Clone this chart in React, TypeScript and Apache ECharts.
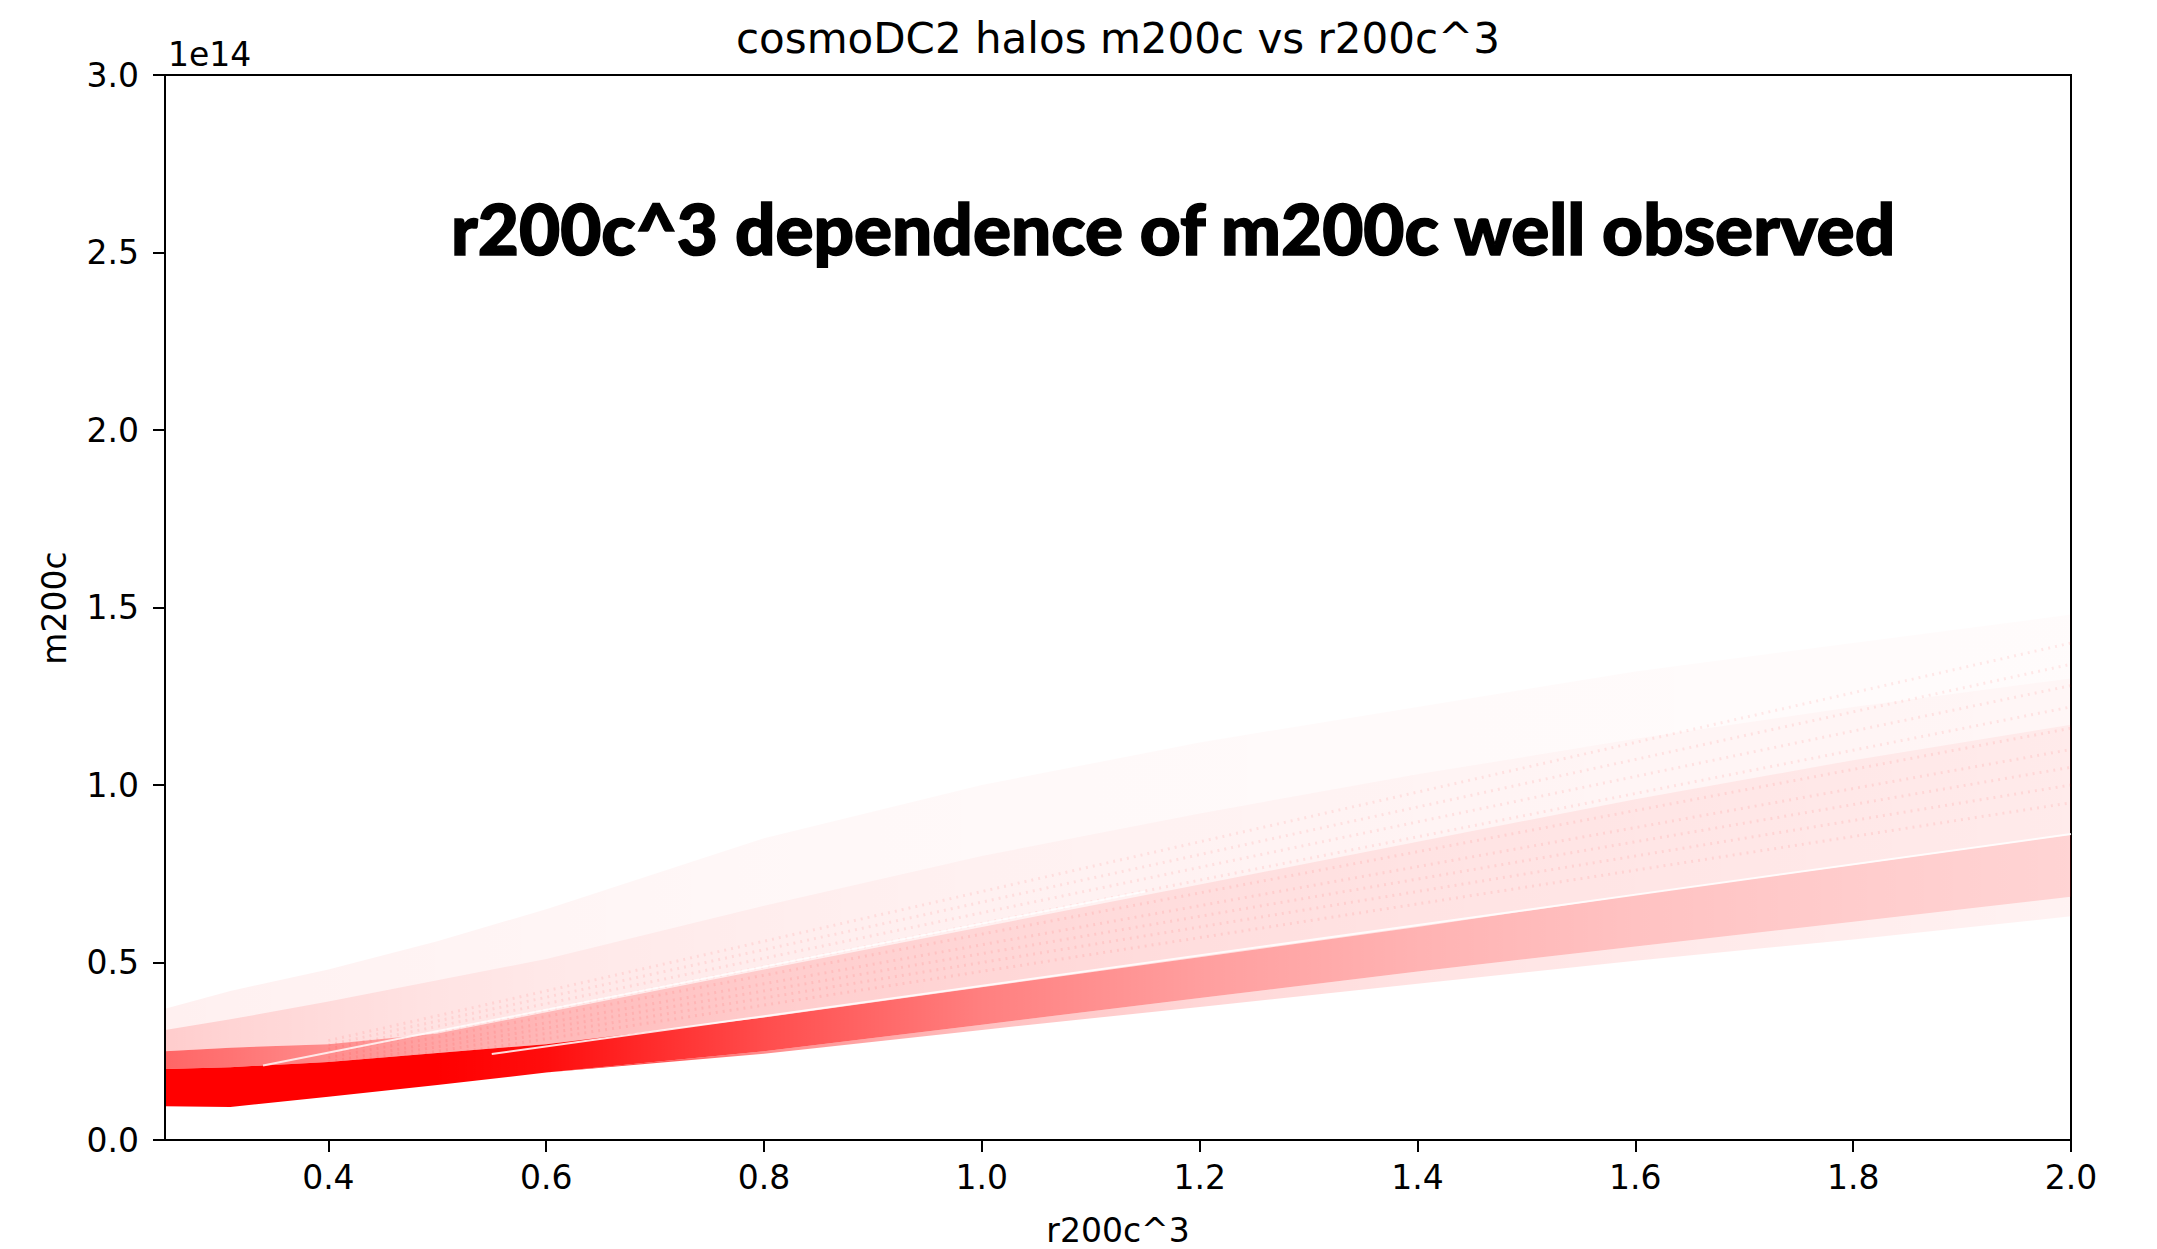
import React, { useEffect, useRef } from "react";
import * as echarts from "echarts";

// ---- axis ticks ----
const xTicks = [0.4, 0.6, 0.8, 1.0, 1.2, 1.4, 1.6, 1.8, 2.0];
const yTicks = [0, 0.5, 1.0, 1.5, 2.0, 2.5, 3.0];

// ---- density bands of the scatter cloud (m200c in units of 1e14), read on this r200c^3 grid ----
const gridX = [0.25, 0.31, 0.4, 0.5, 0.6, 0.8, 1.0, 1.2, 1.4, 1.6, 1.8, 2.0];
const edgeOuter = [0.095, 0.093, 0.122, 0.155, 0.19, 0.243, 0.31, 0.375, 0.44, 0.505, 0.565, 0.63];
const edgeDense = [0.095, 0.093, 0.122, 0.155, 0.19, 0.25, 0.325, 0.4, 0.475, 0.545, 0.615, 0.685];
const denseTop = [0.2, 0.205, 0.22, 0.245, 0.27, 0.345, 0.43, 0.515, 0.6, 0.69, 0.775, 0.86];
const raysTop = [0.25, 0.26, 0.27, 0.3, 0.36, 0.48, 0.6, 0.72, 0.84, 0.96, 1.07, 1.17];
const sparseTop = [0.31, 0.34, 0.39, 0.45, 0.51, 0.66, 0.8, 0.92, 1.03, 1.13, 1.22, 1.3];
const faintTop = [0.37, 0.42, 0.48, 0.56, 0.65, 0.85, 1.0, 1.12, 1.22, 1.32, 1.4, 1.48];

// apparent point density (opacity) of each band along r200c^3
const edgeOpacity = [1, 1, 1, 1, 0.9, 0.45, 0.25, 0.16, 0.11, 0.09, 0.07, 0.05];
const denseOpacity = [1, 1, 1, 1, 0.95, 0.7, 0.5, 0.38, 0.3, 0.24, 0.2, 0.17];
const raysOpacity = [0.6, 0.55, 0.45, 0.35, 0.28, 0.2, 0.16, 0.13, 0.11, 0.1, 0.09, 0.08];
const sparseOpacity = [0.2, 0.17, 0.14, 0.11, 0.09, 0.07, 0.055, 0.05, 0.045, 0.04, 0.04, 0.035];
const faintOpacity = [0.06, 0.055, 0.05, 0.045, 0.04, 0.03, 0.025, 0.022, 0.02, 0.018, 0.016, 0.015];

// ---- faint rows of points (rays) in the upper cloud ----
const rayX = [0.4, 2.0];
const rayStartY = [0.19, 0.2, 0.21, 0.22, 0.232, 0.244, 0.256, 0.268, 0.28];
const rayEndY = [0.95, 1.0, 1.05, 1.1, 1.16, 1.22, 1.28, 1.34, 1.4];

// ---- white gaps visible in the cloud ----
const gap1X = [0.55, 2.0];
const gap1Y = [0.242, 0.862];
const gap2X = [0.34, 1.15];
const gap2Y = [0.21, 0.7];

const X_MIN = 0.25;
const X_MAX = 2.0;
const FONT = "DejaVu Sans";

function band(lo: number[], hi: number[], alpha: number[]) {
  return {
    type: "custom",
    coordinateSystem: "cartesian2d",
    silent: true,
    data: [[gridX[0], lo[0]]],
    renderItem: (_params: any, api: any) => {
      const pts: number[][] = [];
      for (let i = 0; i < gridX.length; i++) pts.push(api.coord([gridX[i], lo[i]]));
      for (let i = gridX.length - 1; i >= 0; i--) pts.push(api.coord([gridX[i], hi[i]]));
      const p0 = api.coord([X_MIN, 0]);
      const p1 = api.coord([X_MAX, 0]);
      const stops = gridX.map((x, i) => ({
        offset: (x - X_MIN) / (X_MAX - X_MIN),
        color: `rgba(255,0,0,${alpha[i]})`,
      }));
      const fill = new echarts.graphic.LinearGradient(p0[0], 0, p1[0], 0, stops, true);
      return { type: "polygon", shape: { points: pts }, style: { fill } };
    },
  };
}

function seg(xs: number[], ys: number[], color: string, width: number, type: any) {
  return {
    type: "line",
    silent: true,
    symbol: "none",
    data: xs.map((x, i) => [x, ys[i]]),
    lineStyle: { color, width, type },
  };
}

export default function App() {
  const ref = useRef<HTMLDivElement>(null);
  useEffect(() => {
    if (!ref.current) return;
    const chart = echarts.init(ref.current, undefined, { renderer: "svg" });
    const rays = rayStartY.map((y0, i) =>
      seg(rayX, [y0, rayEndY[i]], "rgba(255,0,0,0.08)", 3, [2, 5])
    );
    chart.setOption({
      animation: false,
      backgroundColor: "#ffffff",
      textStyle: { fontFamily: FONT },
      grid: {
        left: 165,
        top: 75,
        width: 1906,
        height: 1065,
        show: true,
        borderColor: "#000",
        borderWidth: 2,
        backgroundColor: "transparent",
      },
      xAxis: {
        type: "value",
        min: X_MIN,
        max: X_MAX,
        z: 10,
        splitLine: { show: false },
        axisLine: { show: true, onZero: false, lineStyle: { color: "#000", width: 2 } },
        axisTick: {
          show: true,
          customValues: xTicks,
          length: 12,
          lineStyle: { color: "#000", width: 2 },
        },
        axisLabel: {
          customValues: xTicks,
          margin: 21,
          color: "#000",
          fontSize: 33,
          fontFamily: FONT,
          formatter: (v: number) => v.toFixed(1),
        },
      },
      yAxis: {
        type: "value",
        min: 0,
        max: 3,
        interval: 0.5,
        z: 10,
        splitLine: { show: false },
        axisLine: { show: true, onZero: false, lineStyle: { color: "#000", width: 2 } },
        axisTick: { show: true, length: 12, lineStyle: { color: "#000", width: 2 } },
        axisLabel: {
          margin: 26,
          color: "#000",
          fontSize: 33,
          fontFamily: FONT,
          formatter: (v: number) => v.toFixed(1),
        },
        data: yTicks,
      },
      graphic: [
        {
          type: "text",
          x: 1118,
          y: 38,
          style: {
            text: "cosmoDC2 halos m200c vs r200c^3",
            fontSize: 42,
            fontFamily: FONT,
            fill: "#000",
            align: "center",
            verticalAlign: "middle",
          },
        },
        {
          type: "text",
          x: 168,
          y: 54,
          style: {
            text: "1e14",
            fontSize: 33,
            fontFamily: FONT,
            fill: "#000",
            align: "left",
            verticalAlign: "middle",
          },
        },
        {
          type: "text",
          x: 1118,
          y: 1230,
          style: {
            text: "r200c^3",
            fontSize: 33,
            fontFamily: FONT,
            fill: "#000",
            align: "center",
            verticalAlign: "middle",
          },
        },
        {
          type: "text",
          x: 54,
          y: 608,
          rotation: Math.PI / 2,
          style: {
            text: "m200c",
            fontSize: 33,
            fontFamily: FONT,
            fill: "#000",
            align: "center",
            verticalAlign: "middle",
          },
        },
        {
          type: "text",
          x: 451,
          y: 227,
          z: 100,
          style: {
            text: "r200c^3 dependence of m200c well observed",
            fontSize: 71,
            fontWeight: 900,
            fontFamily: "Lato",
            fill: "#000",
            stroke: "#000",
            lineWidth: 1.5,
            align: "left",
            verticalAlign: "middle",
          },
        },
      ],
      series: [
        band(edgeOuter, edgeDense, edgeOpacity),
        band(edgeDense, denseTop, denseOpacity),
        band(denseTop, raysTop, raysOpacity),
        band(raysTop, sparseTop, sparseOpacity),
        band(sparseTop, faintTop, faintOpacity),
        ...rays,
        seg(gap1X, gap1Y, "rgba(255,255,255,0.85)", 2, "solid"),
        seg(gap2X, gap2Y, "rgba(255,255,255,0.8)", 2, "solid"),
      ],
    });
    return () => chart.dispose();
  }, []);
  return (
    <div
      ref={ref}
      style={{ position: "absolute", left: 0, top: 0, width: 2157, height: 1249 }}
    />
  );
}
